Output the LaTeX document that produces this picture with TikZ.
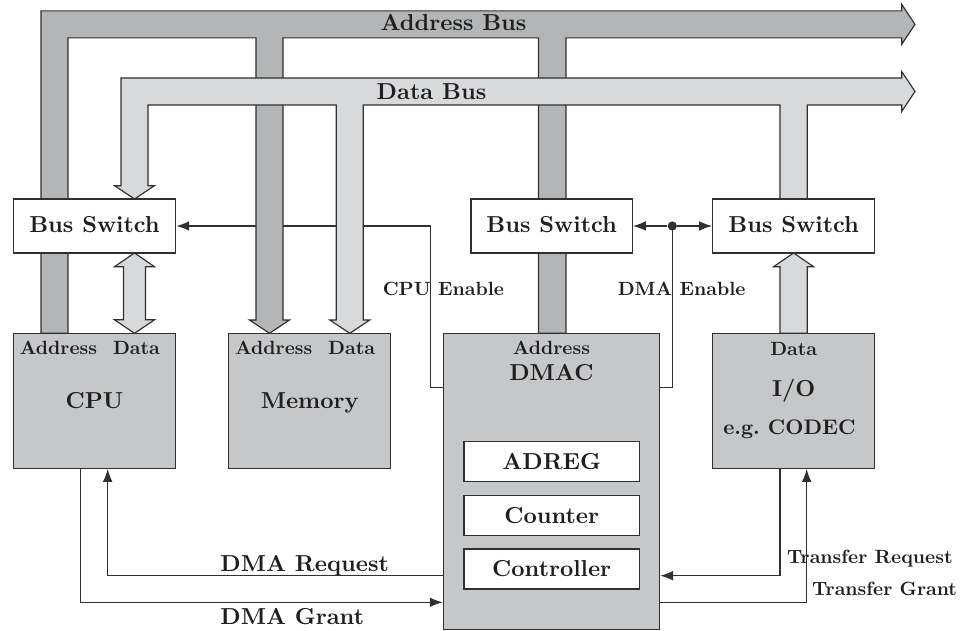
\documentclass[tikz,border=0pt]{standalone}
\usepackage{fontspec}
\setmainfont{lmroman10-regular}[Extension=.otf, BoldFont=lmroman10-bold]
\usetikzlibrary{arrows.meta,fit}
\pgfdeclarelayer{sigback}
\pgfdeclarelayer{buses}
\pgfsetlayers{sigback,buses,main}
\definecolor{addrc}{HTML}{B4B5B7}
\definecolor{datac}{HTML}{D8D9DB}
\definecolor{boxc}{HTML}{C6C7C9}
\definecolor{linec}{HTML}{303030}
\begin{document}
\begin{tikzpicture}[x=0.4329pt,y=-0.4329pt,
  every node/.style={font=\fontsize{10}{12}\selectfont\bfseries, text=black!88},
  smallf/.style={font=\fontsize{8.3}{10}\selectfont\bfseries},
  midf/.style={font=\fontsize{9.1}{11}\selectfont\bfseries},
  unit/.style={draw=linec, line width=0.5pt, fill=boxc, inner sep=0pt},
  switchbox/.style={draw=linec, line width=0.5pt, fill=white, inner sep=0pt},
  sig/.style={draw=linec, line width=0.6pt},
  tip/.style={-{Latex[length=5.6pt,width=4.2pt]}},
  lbl/.style={anchor=base, inner sep=0pt},
  addrbus/.style={draw=linec, line width=0.5pt, fill=addrc},
  databus/.style={draw=linec, line width=0.5pt, fill=datac},
]
\useasboundingbox (0,0) rectangle (961,631);

% ---- boxes ----
\node[switchbox, fit={(13.3,199)(175.7,253)}] (bsL) {};
\node[switchbox, fit={(471,199)(632.3,253)}] (bsM) {};
\node[switchbox, fit={(712.7,199)(874.7,253)}] (bsR) {};
\node[unit, fit={(13.3,333.3)(175.7,468.3)}] (cpu) {};
\node[unit, fit={(228.7,333.3)(390.7,468.3)}] (mem) {};
\node[unit, fit={(443.3,333.3)(659.5,629.3)}] (dmac) {};
\node[unit, fit={(712.7,333.3)(874.7,468.3)}] (io) {};
\node[switchbox, fit={(464,441.7)(639.3,481.7)}] (adreg) {};
\node[switchbox, fit={(464,495.7)(639.3,535.7)}] (counter) {};
\node[switchbox, fit={(464,549)(639.3,589)}] (ctrl) {};

% ---- labels ----
\node[lbl] (bsLt) at (94.5,232.7) {Bus Switch};
\node[lbl] (bsMt) at (551.7,232.7) {Bus Switch};
\node[lbl] (bsRt) at (793.7,232.7) {Bus Switch};
\node[lbl] (adregt) at (551.7,470) {ADREG};
\node[lbl] (countert) at (551.7,523.3) {Counter};
\node[lbl] (ctrlt) at (551.7,576.7) {Controller};
\node[lbl, smallf] (cpuA) at (58.5,355) {Address};
\node[lbl, smallf] (cpuD) at (136.5,355) {Data};
\node[lbl] (cpuT) at (94.5,409) {CPU};
\node[lbl, smallf] (memA) at (273.7,355) {Address};
\node[lbl, smallf] (memD) at (351.7,355) {Data};
\node[lbl] (memT) at (309.7,409) {Memory};
\node[lbl, smallf] (dmacA) at (551.4,355) {Address};
\node[lbl] (dmacT) at (551.4,380.7) {DMAC};
\node[lbl, smallf] (ioD) at (793.7,355.5) {Data};
\node[lbl] (ioT) at (793.7,396.7) {I/O};
\node[lbl, midf] (ioE) at (789.4,435) {e.g.~CODEC};
\node[lbl] (abus) at (453.5,30.7) {Address Bus};
\node[lbl] (dbus) at (431.5,99.7) {Data Bus};
\node[lbl, smallf] (cpuen) at (443.4,296) {CPU Enable};
\node[lbl, smallf] (dmaen) at (681.7,296) {DMA Enable};
\node[lbl, anchor=base west] (dreq) at (220,571.7) {DMA Request};
\node[lbl, anchor=base west] (dgr) at (220,625) {DMA Grant};
\node[lbl, smallf, anchor=base west] (treq) at (786.7,564) {Transfer Request};
\node[lbl, smallf, anchor=base west] (tgr) at (811.7,596) {Transfer Grant};

% ---- buses ----
\begin{pgfonlayer}{buses}
\path[addrbus] (41,333.3) -- (41,10.85) -- (901.7,10.85) -- (901.7,4.35) -- (915,24.35)
  -- (901.7,44.35) -- (901.7,37.85) -- (566,37.85) -- (566,333.3) -- (538.5,333.3)
  -- (538.5,37.85) -- (283,37.85) -- (283,320) -- (289.5,320) -- (269.5,333.3)
  -- (249.5,320) -- (256,320) -- (256,37.85) -- (68,37.85) -- (68,333.3) -- cycle;
\path[databus] (121,185.7) -- (121,78) -- (901.7,78) -- (901.7,71.5) -- (915,91.5)
  -- (901.7,111.5) -- (901.7,105) -- (807.3,105) -- (807.3,199) -- (780,199)
  -- (780,105) -- (363.3,105) -- (363.3,320) -- (369.8,320) -- (349.8,333.3)
  -- (329.8,320) -- (336.3,320) -- (336.3,105) -- (148,105) -- (148,185.7)
  -- (154.5,185.7) -- (134.5,199) -- (114.5,185.7) -- cycle;
% CPU <-> bus switch data
\path[databus] (134.5,253) -- (154.5,266.7) -- (145.5,266.7) -- (145.5,319.8)
  -- (154.5,319.8) -- (134.5,333.3) -- (114.5,319.8) -- (123.5,319.8)
  -- (123.5,266.7) -- (114.5,266.7) -- cycle;
% I/O -> bus switch data
\path[databus] (793.6,253) -- (813.6,266.7) -- (807.3,266.7) -- (807.3,333.3)
  -- (780,333.3) -- (780,266.7) -- (773.6,266.7) -- cycle;
\end{pgfonlayer}

% ---- signals ----
\coordinate (ceBend) at (430.7,387.3);
\coordinate (ceTop) at (430.7,226);
\begin{pgfonlayer}{sigback}
\draw[sig, tip] (dmac.west |- ceBend) -- (ceBend) -- (ceTop) -- (bsL.east |- ceTop);
\end{pgfonlayer}

\coordinate (deBend) at (672.3,387.3);
\node[circle, fill=linec, inner sep=0pt, minimum size=4pt] (dot) at (672.3,226) {};
\draw[sig] (dmac.east |- deBend) -- (deBend) -- (dot.center);
\draw[sig, tip] (dot) -- (bsM.east);
\draw[sig, tip] (dot) -- (bsR.west);

\coordinate (rqC) at (107.7,575.7);
\draw[sig, tip] (dmac.west |- rqC) -- (rqC) -- (cpu.south -| rqC);
\coordinate (grC) at (80.7,602.3);
\draw[sig, tip] (cpu.south -| grC) -- (grC) -- (dmac.west |- grC);
\coordinate (trC) at (780,575.7);
\draw[sig, tip] (io.south -| trC) -- (trC) -- (dmac.east |- trC);
\coordinate (tgC) at (806.7,602.3);
\draw[sig, tip] (dmac.east |- tgC) -- (tgC) -- (io.south -| tgC);
\end{tikzpicture}
\end{document}
